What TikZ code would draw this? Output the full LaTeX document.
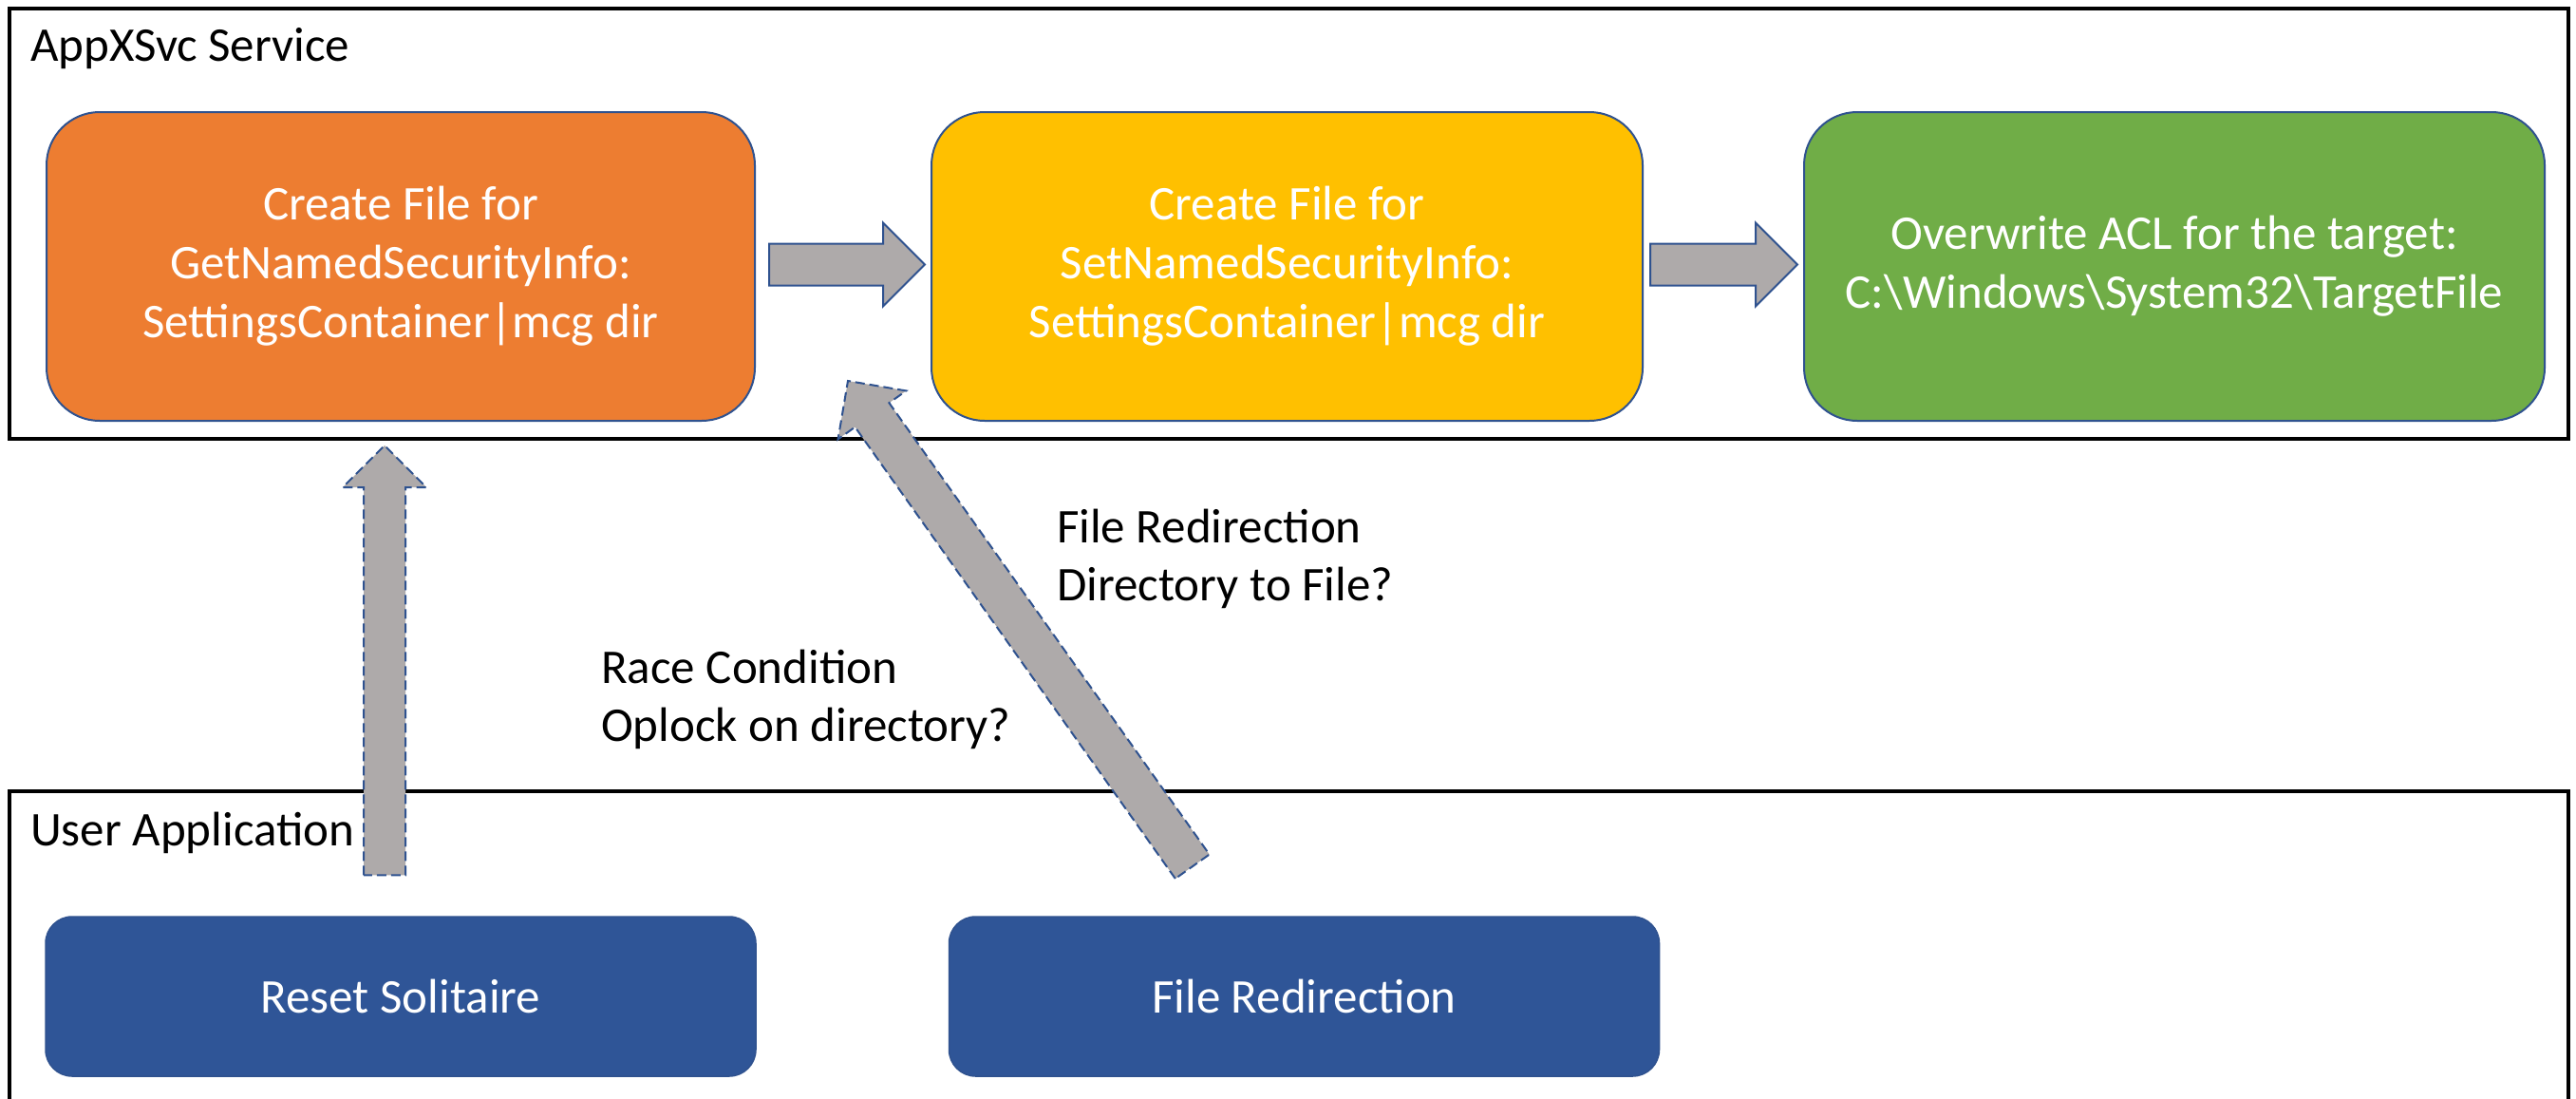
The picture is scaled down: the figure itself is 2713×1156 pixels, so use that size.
\documentclass[tikz,border=0pt]{standalone}
\usepackage{fontspec}
\setmainfont{Carlito}
\usetikzlibrary{calc}
\definecolor{cOrange}{HTML}{ED7D31}
\definecolor{cYellow}{HTML}{FFC000}
\definecolor{cGreen}{HTML}{70AD47}
\definecolor{cBlue}{HTML}{2F5597}
\definecolor{cEdge}{HTML}{2F528F}
\definecolor{cGray}{HTML}{AEAAAA}
\newcommand\blockarrow[3]{%
  \coordinate (ba-h) at ($(#2)!44pt!(#1)$);
  \draw[#3] ($(#1)!22pt!90:(#2)$) -- ($(ba-h)!22pt!90:(#2)$) -- ($(ba-h)!44pt!90:(#2)$) -- (#2)
    -- ($(ba-h)!44pt!-90:(#2)$) -- ($(ba-h)!22pt!-90:(#2)$) -- ($(#1)!22pt!-90:(#2)$) -- cycle;
}
\tikzset{
  box/.style={rounded corners=56pt, draw=cEdge, line width=2pt, text=white, align=center,
    font=\fontsize{51}{62}\selectfont, minimum height=325pt, inner sep=0pt},
  ubox/.style={rounded corners=28pt, draw=cEdge, fill=cBlue, line width=1.5pt, text=white,
    font=\fontsize{51}{62}\selectfont, minimum width=748pt, minimum height=168pt, inner sep=0pt},
  container/.style={draw=black, line width=3.5pt, inner sep=0pt},
  title/.style={anchor=base west, inner sep=0pt, font=\fontsize{51}{60}\selectfont},
  label/.style={anchor=base west, align=left, inner sep=0pt, font=\fontsize{51}{61}\selectfont},
  flowarrow/.style={fill=cGray, draw=cEdge, line width=2pt, line join=miter},
  feedarrow/.style={flowarrow, dash pattern=on 10pt off 5pt},
}
\begin{document}
\begin{tikzpicture}[x=1pt,y=-1pt]
\useasboundingbox (0,0) rectangle (2713,1156);
\clip (0,0) rectangle (2713,1156);
\fill[white] (0,0) rectangle (2713,1156);
% containers
\node[container, minimum width=2695pt, minimum height=453pt] (svc) at (1357.5,235.5) {};
\node[container, minimum width=2695pt, minimum height=367pt] (user) at (1357.5,1016.5) {};
\node[title] (svctitle) at (32,65) {AppXSvc Service};
\node[title] (usertitle) at (32,890) {User Application};
% boxes
\node[box, fill=cOrange, minimum width=746pt] (getinfo) at (422,280.5)
  {Create File for\\GetNamedSecurityInfo:\\SettingsContainer|mcg dir};
\node[box, fill=cYellow, minimum width=749pt] (setinfo) at (1355.5,280.5)
  {Create File for\\SetNamedSecurityInfo:\\SettingsContainer|mcg dir};
\node[box, fill=cGreen, minimum width=780pt] (acl) at (2290,280.5)
  {Overwrite ACL for the target:\\C:\textbackslash Windows\textbackslash System32\textbackslash TargetFile};
\node[ubox] (reset) at (422,1049) {Reset Solitaire};
\node[ubox] (redir) at (1373.5,1049) {File Redirection};
% flow arrows
\coordinate (a1s) at ($(getinfo.east)+(14,-2)$);
\coordinate (a1e) at ($(setinfo.west)+(-6,-2)$);
\blockarrow{a1s}{a1e}{flowarrow}
\coordinate (a2s) at ($(setinfo.east)+(7,-2)$);
\coordinate (a2e) at ($(acl.west)+(-6,-2)$);
\blockarrow{a2s}{a2e}{flowarrow}
% feed arrows
\coordinate (a3s) at ($(reset.north)+(-17,-43)$);
\coordinate (a3e) at ($(getinfo.south)+(-17,25)$);
\blockarrow{a3s}{a3e}{feedarrow}
\coordinate (a4s) at ($(redir.north west)+(257,-52)$);
\coordinate (a4e) at ($(getinfo.south east)+(97,-43)$);
\blockarrow{a4s}{a4e}{feedarrow}
% labels (anchored at the baseline of the last line)
\node[label] (racelbl) at (633,780) {Race Condition\\Oplock on directory?};
\node[label] (redirlbl) at (1113,632) {File Redirection\\Directory to File?};
\end{tikzpicture}
\end{document}
